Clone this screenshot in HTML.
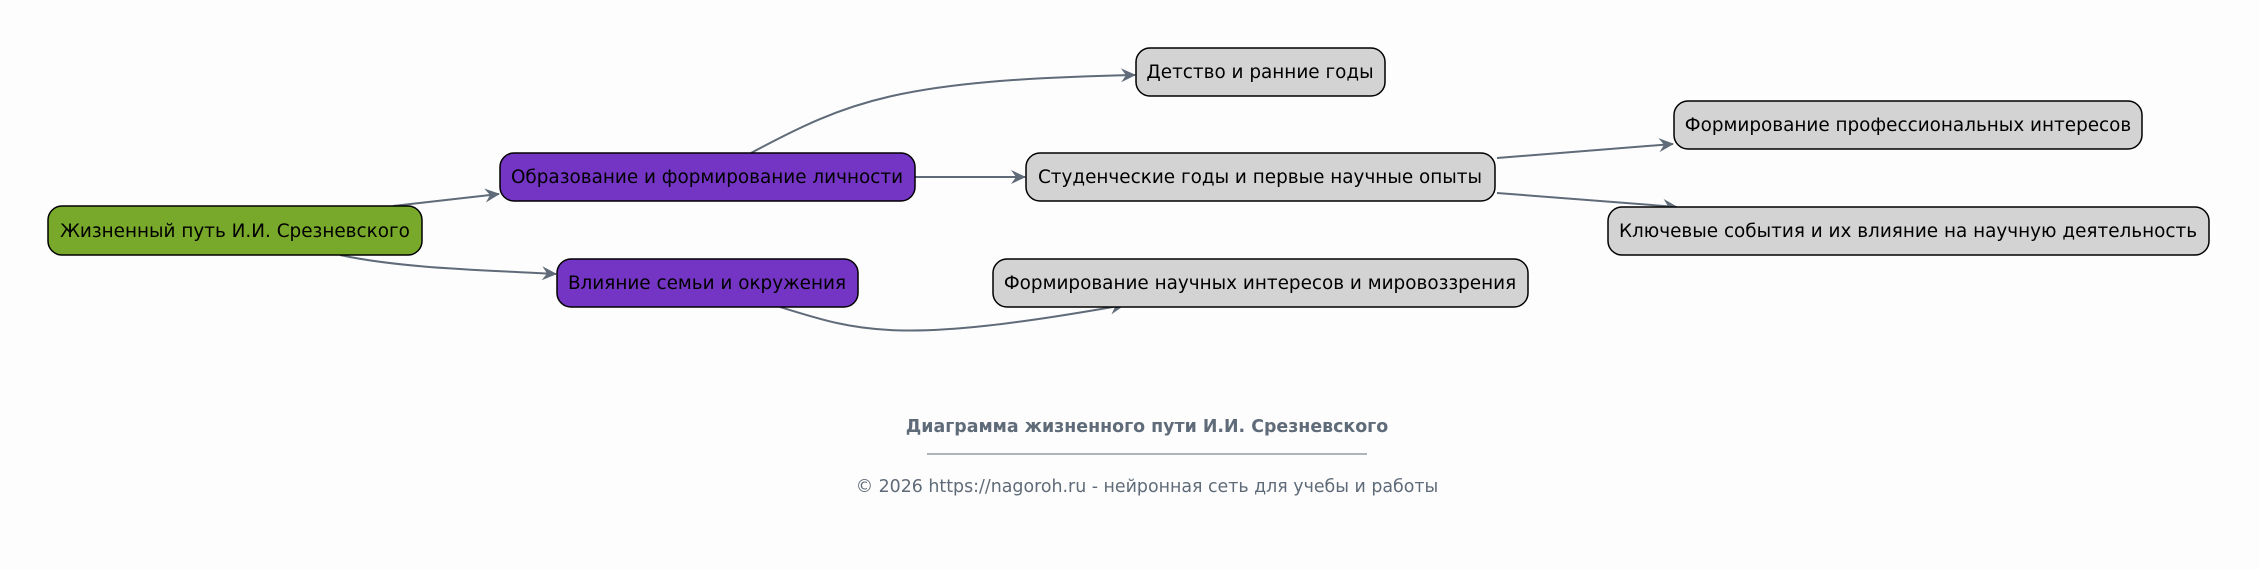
<!DOCTYPE html>
<html><head><meta charset="utf-8"><style>
html,body{margin:0;padding:0;background:#fdfdfd;}
svg{display:block}
text{font-family:"DejaVu Sans","Liberation Sans",sans-serif;}
</style></head><body>
<svg width="2259" height="570" viewBox="0 0 2259 570" xmlns="http://www.w3.org/2000/svg">
<defs>
<marker id="a" markerWidth="16" markerHeight="14" refX="14" refY="7" orient="auto" markerUnits="userSpaceOnUse">
<path d="M0,0 L15,7 L0,14 L5,7 Z" fill="#5f6b78"/>
</marker>
</defs>
<rect width="2259" height="570" fill="#fdfdfd"/>
<g fill="none" stroke="#5f6b78" stroke-width="2" marker-end="url(#a)">
<path d="M393,206 L499,194"/>
<path d="M340,255 C400,268 480,270 556,274"/>
<path d="M751,153 C850,100 900,80 1135,75"/>
<path d="M915,177 L1025,177"/>
<path d="M1497,158 L1673,144"/>
<path d="M1497,193 L1677,207"/>
<path d="M780,307 C860,332 900,345 1124,305"/>
</g>
<g stroke="#000" stroke-width="1.5">
<rect x="48" y="206" width="374" height="49" rx="14" fill="#78a92a"/>
<rect x="500" y="153" width="415" height="48" rx="14" fill="#7535c4"/>
<rect x="557" y="259" width="301" height="48" rx="14" fill="#7535c4"/>
<rect x="1136" y="48" width="249" height="48" rx="14" fill="#d3d3d3"/>
<rect x="1026" y="153" width="469" height="48" rx="14" fill="#d3d3d3"/>
<rect x="1674" y="101" width="468" height="48" rx="14" fill="#d3d3d3"/>
<rect x="1608" y="207" width="601" height="48" rx="14" fill="#d3d3d3"/>
<rect x="993" y="259" width="535" height="48" rx="14" fill="#d3d3d3"/>
</g>
<g font-size="18.4" fill="#000" text-anchor="middle">
<text x="235" y="237">Жизненный путь И.И. Срезневского</text>
<text x="707" y="183">Образование и формирование личности</text>
<text x="707" y="289">Влияние семьи и окружения</text>
<text x="1260" y="78">Детство и ранние годы</text>
<text x="1260" y="183">Студенческие годы и первые научные опыты</text>
<text x="1908" y="131">Формирование профессиональных интересов</text>
<text x="1908" y="237">Ключевые события и их влияние на научную деятельность</text>
<text x="1260" y="289">Формирование научных интересов и мировоззрения</text>
</g>
<text x="1147" y="432" font-size="17.4" font-weight="bold" fill="#5f6b78" text-anchor="middle">Диаграмма жизненного пути И.И. Срезневского</text>
<line x1="927" y1="454" x2="1367" y2="454" stroke="#5f6b78" stroke-width="1"/>
<text x="1147" y="492" font-size="17.4" fill="#5f6b78" text-anchor="middle">© 2026 https://nagoroh.ru - нейронная сеть для учебы и работы</text>
</svg>
</body></html>
